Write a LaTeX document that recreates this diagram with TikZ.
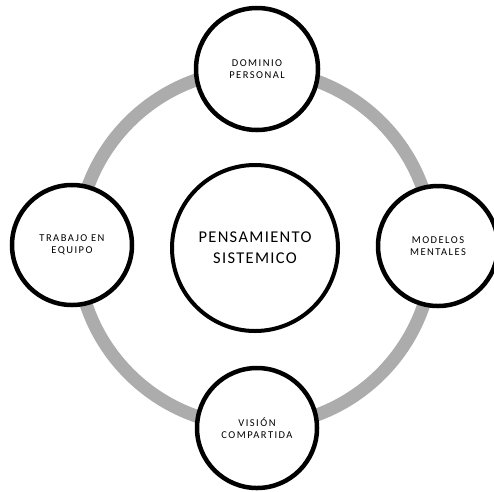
\documentclass[tikz,border=0pt]{standalone}
\usepackage{fontspec}
\newfontfamily\smallfont[LetterSpace=14]{Carlito}
\newfontfamily\bigfont[LetterSpace=8]{Carlito}
\begin{document}
\begin{tikzpicture}[x=1pt,y=-1pt,
  ring/.style={draw=gray!65, line width=13pt},
  outer/.style={circle, draw=black, line width=4.5pt, fill=white, minimum size=120pt, inner sep=0pt, align=center, font=\smallfont\fontsize{10.5}{12.5}\selectfont},
  centre/.style={circle, draw=black, line width=4pt, fill=white, minimum size=166pt, inner sep=0pt, align=center, font=\bigfont\fontsize{16.5}{21}\selectfont}]
\useasboundingbox (0,0) rectangle (494,491);
\coordinate (c) at (255,248);
\draw[ring] (c) circle[radius=178];
\node[centre] (ps) at (255,248) {PENSAMIENTO\\SISTEMICO};
\node[outer, minimum size=122pt] (dp) at (257,69) {DOMINIO\\PERSONAL};
\node[outer] (te) at (72,245) {TRABAJO EN\\EQUIPO};
\node[outer] (mm) at (438,246) {MODELOS\\MENTALES};
\node[outer] (vc) at (257,428) {VISIÓN\\COMPARTIDA};
\end{tikzpicture}
\end{document}
